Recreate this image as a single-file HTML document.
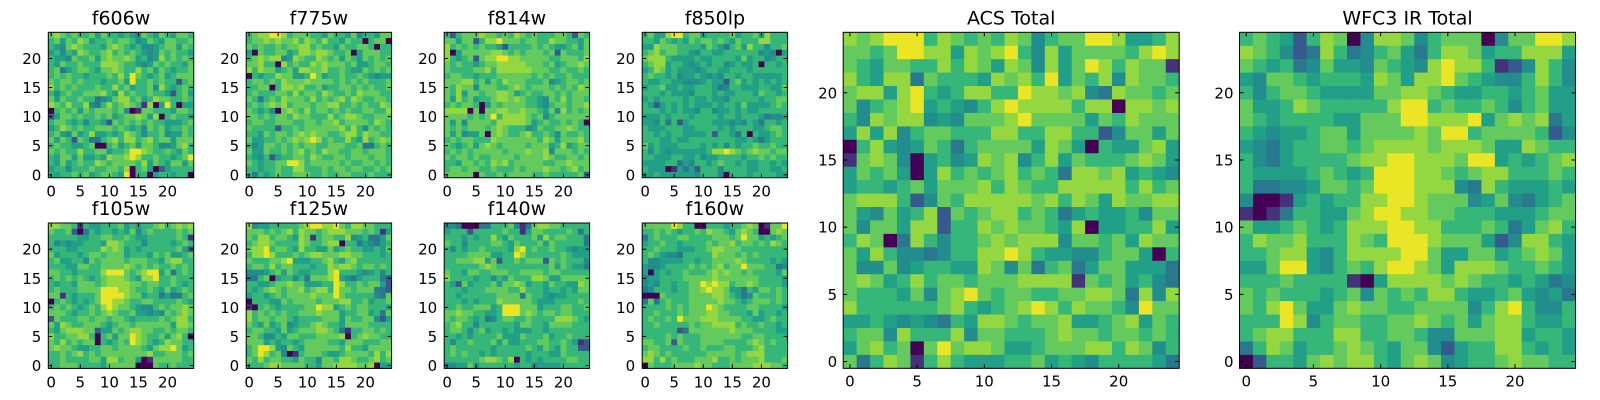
<!DOCTYPE html>
<html><head><meta charset="utf-8"><style>
html,body{margin:0;padding:0;background:#fff;width:1600px;height:400px;overflow:hidden}
svg{display:block}
text{font-family:"DejaVu Sans","Liberation Sans",sans-serif;fill:#000}
</style></head><body>
<svg id="chart" width="1600" height="400" viewBox="0 0 1600 400" xmlns="http://www.w3.org/2000/svg"></svg>
<script>
// Panel titles and data (rows listed from y=24 at top down to y=0). Digits 0-9 = relative flux level.
const panelTitles = ["f606w","f775w","f814w","f850lp","f105w","f125w","f140w","f160w","ACS Total","WFC3 IR Total"];
const tickValues = [0,5,10,15,20];
const tickLabels = ["0","5","10","15","20"];
const f606w = ["7876766757665654765765776","6757687566767764576577667","6547876665787656445677576","5646587667867676545767665","6554766757877875645867676","6576676668887665457676657","6735677657787668675765667","6767665666768697656756777","7677676665667596676766267","8676766676686756674865676","6467667778658676676652675","7576676634578867568776676","8768668436867876180596055","0676757677767401776665776","2577676676756778758067665","6776564665276767676655567","5687676677767656476756676","6754756855656876466745576","7576276336786886786775777","6766556700675675776445786","7676686677566799876676576","6577575565877898667665679","6575676687677776857657757","5664666766776806750256666","6566767567765906605665660"];
const f775w = ["6788998677766576657466577","6778787786876866576606770","7676676778867665766776066","5076677568878876670577766","6787884587668767576576767","7786608676687877767556776","8687756758877866765576767","0656687755697566766765455","6776768777877776767676667","6677068878667566776767667","6766677686776876676877766","7636768777686767868766776","6767878677767788667676687","7656407876867767676677668","7767677687766686788766777","6776677766776778677776876","7666626676777777868647676","6657677678787766788687766","7556676787898676686586787","6457767676776677766733676","7557667678676877667767776","6546256677687667767776776","7656677998677777676677676","6656676688666767767766767","6365676677766766776667666"];
const f814w = ["6267778776768767666776276","7757726889777677668776657","8676767665266667676556757","8057777788767677767276667","8656727889988777776677768","7676656778888877767567787","7666677868888887776676676","6776656667777776767667666","7778867576877766674567767","7687747776678767776767687","7685776778875676677676777","7586756678878766547686776","6767760576777766546776778","8888070778877877657486767","7777676796888876746777777","7574777768888875676676760","7676777678766645766778766","7574557078766786676476676","6767766687777777687577786","7656757876777767775685677","6767677777677787784777676","7677676677776777787667767","6657767687867777766778777","6776776676667677787767867","7777707667677776676666672"];
const f850lp = ["6755899677566667566758666","6657656576776765766688666","5587776666576536758664667","6786776654665566666645405","7888655556556666575664566","6788566545656645655606656","5687565554566556665666666","6766564556545466566555556","6556655444565526756565656","5667556556665346655566557","6665655546665655666576656","5656666565565546666656677","6525656565556566575555676","6665656554664556565566666","5556566656666566566653445","5546362566665554546536656","6555666556666565666556776","6656566555562665360655676","6665565566666666556535666","7565556666565646566766766","6465455555568898767877677","6655566556455666656676766","5555663546656766565566565","6555015352666466665566556","5565555554666406665666655"];
const f105w = ["8877616556667565667867878","7667203656656574676666767","6666655667766765566666761","6454556665887666466665676","6665566668787565666666752","7566656776777566657675567","6755664767777677766578866","6665577667777876767667676","7766566668999767899573676","6767676567888765889667666","6566577767888877677667656","6766677779998876676575676","7716566679999877566353367","0676565679988766776666765","6767656768987765446767787","7776566767876675545476787","2766677677677656666767886","7587667776567767777775887","6578887725576788776676776","8667788606757798766757860","7686767706567698765687766","7877655667767777657889756","6676786767777777786677767","6676666775886775017777766","6677766665777770007667666"];
const f125w = ["8455666667899889768877666","7776767868776788877767615","7688677658716776684563357","6788766668766788066354356","7889677658665575676655657","6889866676788777887766656","7666778955566786578666666","6776867766656687887677676","4445675765566689666545646","3367056646377789543566632","6655677877555669866767752","6567876778678869776777332","5665676777787779766666437","0666557677776777886675667","1067656666779885676776665","8676767667778777566775637","8677677656666777576677425","7657567456678766577776666","6776657567778876316677676","7764465776667777806787766","7775656656777766577766677","6799854765777777686657777","6798674016777655677776868","7686776657664776887667867","6667887777665778888778055"];
const f140w = ["4430003366674137887766666","5666266666766157766667636","6665656686576667586776663","7664666677657666757666663","6465667666658967667665455","6666777755669866666676555","6677788572667677727676664","6666667876666666667576553","7665776677766777767766666","8666656646576668875577777","6527566675778756657665587","6665666777766866656656577","6656666667777376654556666","6665656668777776555666676","6676677756999777566677667","7787766556999787677677666","7677656346776676666888765","6786646666665776657777666","6776467566565556656666666","6656566667555766675667666","6466766675755666776676512","6766666656666676576576622","6767665656666656665576666","6666667887680656566667766","4455756666665664555566666"];
const f160w = ["7777798660066656678701779","6676765667687765787600787","3676667766667776797756567","5667665666676778677676876","6676665556678877766666666","6765443666668777676766666","6445555665667777876666565","5445666676767867797776634","5056566766678787767666657","4556666777778777777766665","4546656677989886778766665","3466656677898875536577676","0007666677778876534766676","3736766677777877656777676","6666767677798766667766665","6676667677788776665756656","6766769777888777766556766","6676666676778888676676656","6666662377777778777666655","6666767666777777766776666","7766727666777766667876766","6776666766766677666786666","7876766666677777678886666","8868676667778667677786667","0766677778776667777888776"];
const acsTotal = ["8789996876768746779985568","7767998858789648577776898","7657766868758748579868771","8658837666587869576848776","7885896568866988784387767","7467895654689888868808878","6487884547778977775768777","5858467766688668866247757","0685457636777758750655785","1787405645878468576667875","5767505867678676388785654","5665675777868766888886867","7888624768888878687587788","7547568276788676356556477","7477588266878776580556685","6870386466787888477675877","7586443466889865544677506","7447456655874736735775553","7875686776777888817675643","7666574789767766778873848","8666666786567898687764977","5565454365887677855678576","6774866684776667877677676","5786707978875567778868746","7368716865556675654666653"];
const wfc3Total = ["6765268704887467770477998","8764238634675368875668885","7656347554765489886124864","5477656665875889765446864","6467765555778876556656755","7556876666689967667646755","7656666557779988895787835","6545567757777879967777624","5435667767888878887558766","6435666678899888799565678","6555567656999887678866676","6334457767999888438655565","4001565668899877745743567","1013665578998877666555677","7556765688899886667635786","6877866687699987775248865","6678854688889975577567875","5579954676899875888766765","6667666610588887876656534","7676665674767688655675453","7689755787766777746896446","6669846776677876757886556","6788666886677644777885665","3687566787657742566886565","0266578788657874566787766"];

const datasets = [f606w,f775w,f814w,f850lp,f105w,f125w,f140w,f160w,acsTotal,wfc3Total];
const frames = [
  [48.3,32.3,145.4],[246.2,32.3,145.4],[444.2,32.3,145.4],[642.2,32.3,145.4],
  [48.3,223.0,145.4],[246.2,223.0,145.4],[444.2,223.0,145.4],[642.2,223.0,145.4],
  [843.2,32.3,336.0],[1239.5,32.3,336.0]
];
// level -> colormap position
const LEVEL_T = [0,0.14,0.28,0.4,0.48,0.56,0.66,0.76,0.84,0.97];

const VIR = ["#440154","#482475","#414487","#355f8d","#2a788e","#21918c","#22a884","#44bf70","#7ad151","#bddf26","#fde725"];
function hex(c){return [parseInt(c.substr(1,2),16),parseInt(c.substr(3,2),16),parseInt(c.substr(5,2),16)];}
function viridis(t){
  t=Math.max(0,Math.min(1,t));const p=t*(VIR.length-1);const i=Math.min(VIR.length-2,Math.floor(p));const f=p-i;
  const a=hex(VIR[i]),b=hex(VIR[i+1]);
  return "rgb("+a.map((v,k)=>Math.round(v+(b[k]-v)*f)).join(",")+")";
}
const NS="http://www.w3.org/2000/svg";
const svg=document.getElementById("chart");
function mk(tag,attrs,parent){const e=document.createElementNS(NS,tag);for(const k in attrs)e.setAttribute(k,attrs[k]);(parent||svg).appendChild(e);return e;}

datasets.forEach((rows,p)=>{
  const [L,T,S]=frames[p];
  const big=S>200;
  const n=25, w=S/n;
  const xScale=v=>L+(v+0.5)*w;
  const yScale=v=>T+(n-0.5-v)*w;
  const g=mk("g",{});
  
  
  rows.forEach((row,ri)=>{
    const yv=n-1-ri;
    for(let c=0;c<n;c++){
      const ch=row[c]; const v=(ch===undefined)?6:+ch;
      const r=mk("rect",{x:(xScale(c)-w/2).toFixed(2),y:(yScale(yv)-w/2).toFixed(2),width:(w+0.4).toFixed(2),height:(w+0.4).toFixed(2),fill:viridis(LEVEL_T[v])},g);
      
      
    }
  });
  const fr=mk("rect",{x:L,y:T,width:S,height:S,fill:"none",stroke:"#000","stroke-width":1},g);
  
  
  tickValues.forEach((tv,k)=>{
    const x=xScale(tv), y=yScale(tv);
    mk("line",{x1:x,y1:T+S,x2:x,y2:T+S-4,stroke:"#000","stroke-width":1},g);
    mk("line",{x1:x,y1:T,x2:x,y2:T+4,stroke:"#000","stroke-width":1},g);
    mk("line",{x1:L,y1:y,x2:L+4,y2:y,stroke:"#000","stroke-width":1},g);
    mk("line",{x1:L+S,y1:y,x2:L+S-4,y2:y,stroke:"#000","stroke-width":1},g);
    const xt=mk("text",{x:x,y:T+S+(big?18:19),"font-size":15,"text-anchor":"middle"},g);
    xt.textContent=tickLabels[k];
    
    
    const yt=mk("text",{x:L-(big?6:7),y:y+5.5,"font-size":15,"text-anchor":"end"},g);
    yt.textContent=tickLabels[k];
    
    
  });
  const tt=mk("text",{x:L+S/2,y:T-8,"font-size":19,"text-anchor":"middle"},g);
  tt.textContent=panelTitles[p];
  
  
});
</script>
</body></html>
